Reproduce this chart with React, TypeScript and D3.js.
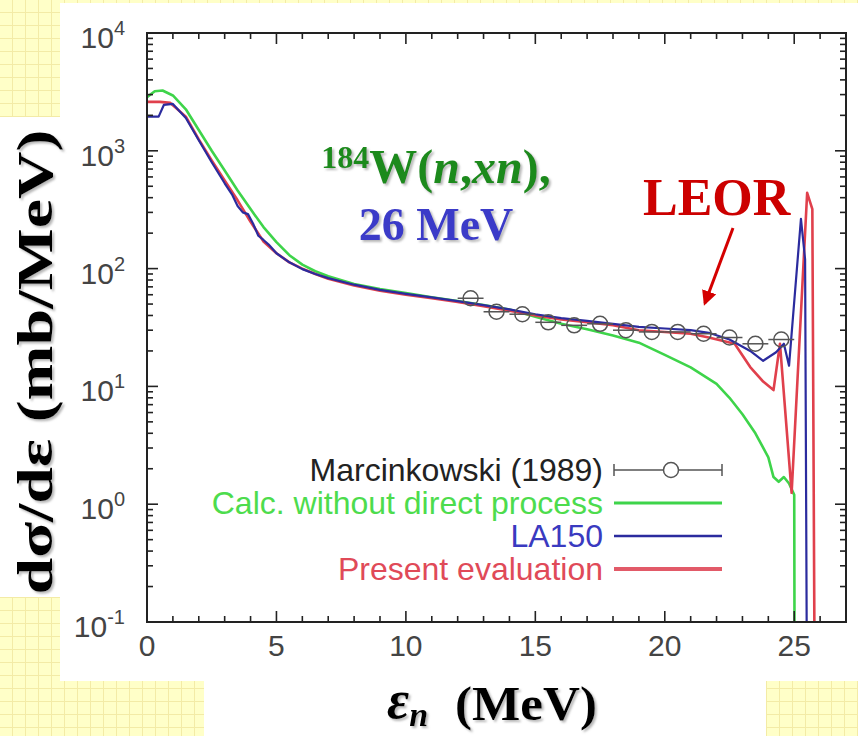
import React from "react"
import * as d3 from "d3"

const W = 858
const H = 736

// Marcinkowski (1989) data
const expE = [12.5, 13.5, 14.5, 15.5, 16.5, 17.5, 18.5, 19.5, 20.5, 21.5, 22.5, 23.5, 24.5]
const expY = [56, 43, 41, 35, 33, 34, 30, 29, 29, 28, 26, 23, 25]

// calc. without direct process
const calcE = [0, 0.3, 0.6, 1.0, 1.5, 2.0, 2.5, 3.0, 3.5, 4.0, 4.5, 5.0, 5.5, 6.0, 6.5, 7.0, 8, 9, 10, 11, 12, 13, 14, 15, 16, 17, 18, 19, 20, 21, 22, 22.5, 23, 23.5, 24, 24.2, 24.4, 24.6, 24.8, 25.0, 25.02]
const calcY = [2850, 3200, 3250, 2950, 2250, 1500, 1000, 680, 460, 320, 225, 168, 130, 108, 95, 86, 74, 67, 62, 57, 53, 49, 45, 39, 34, 30.5, 27, 23.5, 18.5, 14.5, 10.5, 8, 5.8, 4, 2.5, 1.7, 1.55, 1.7, 1.5, 1.2, 0.01]

// LA150
const la150E = [0, 0.45, 0.65, 1.0, 1.5, 2.0, 2.5, 3.0, 3.3, 3.5, 3.7, 3.9, 4.1, 4.3, 4.5, 4.7, 5.0, 5.5, 6.0, 6.5, 7, 8, 9, 10, 11, 12, 13, 14, 15, 16, 17, 18, 19, 20, 21, 21.7, 22.5, 23.3, 23.8, 24.3, 24.6, 24.8, 25.26, 25.42, 25.5]
const la150Y = [1950, 1950, 2450, 2500, 1900, 1230, 800, 530, 420, 340, 300, 290, 240, 190, 175, 160, 135, 113, 99, 90, 83, 73, 66, 61, 57, 53, 49, 45, 41, 38, 36, 34, 32, 31, 30, 28.5, 25, 20, 16.5, 19.5, 23, 15, 265, 120, 0.01]

// present evaluation
const evalE = [0, 0.5, 0.9, 1.5, 2.0, 2.5, 3.0, 3.5, 4.0, 4.5, 5.0, 5.5, 6.0, 6.5, 7, 8, 9, 10, 11, 12, 13, 14, 15, 16, 17, 18, 19, 20, 21, 21.7, 22.7, 23.3, 23.8, 24.2, 24.45, 24.9, 25.5, 25.7, 25.8]
const evalY = [2600, 2600, 2550, 1950, 1250, 830, 560, 380, 250, 170, 135, 113, 100, 90, 82, 72, 65, 60, 56, 52, 48, 44, 40, 37, 35, 33, 30, 29, 28, 26, 23, 14.6, 11, 9.3, 23, 1.25, 440, 320, 0.01]

const xTickVals = [0, 5, 10, 15, 20, 25]
const yTickExp = [-1, 0, 1, 2, 3, 4]

const legendLabels = ["Marcinkowski (1989)", "Calc. without direct process", "LA150", "Present evaluation"]

const GREEN = "#3ed44a"
const BLUE = "#2b2b9e"
const RED = "#e0404c"

const left = 147
const right = 846
const top = 33
const bottom = 622

export default function App() {
  const x = d3.scaleLinear().domain([0, 27]).range([left, right])
  const y = d3.scaleLog().domain([0.1, 1e4]).range([bottom, top])

  const line = d3
    .line<[number, number]>()
    .x((d) => x(d[0]))
    .y((d) => y(d[1]))

  const zip = (a: number[], b: number[]) => a.map((v, i) => [v, b[i]] as [number, number])

  // minor ticks
  const xMinor = d3.range(0, 28, 1).filter((v) => v % 5 !== 0)
  const yMinor: number[] = []
  for (let e = -1; e < 4; e++) for (let k = 2; k <= 9; k++) yMinor.push(k * Math.pow(10, e))

  const serif = "'Liberation Serif', 'Times New Roman', serif"
  const sans = "'Liberation Sans', Arial, Helvetica, sans-serif"

  const legX = 603
  const legBase = [481, 514, 547, 580]
  const legColors = ["#222", "#4ddc4d", "#3a3ac0", "#e04a58"]

  return (
    <div style={{ position: "absolute", left: 0, top: 0 }}>
      <svg width={W} height={H} viewBox={`0 0 ${W} ${H}`} style={{ display: "block" }}>
        <defs>
          <pattern id="grid" width="13" height="13" patternUnits="userSpaceOnUse">
            <rect width="13" height="13" fill="#ffffc8" />
            <path d="M12.5 0V13M0 12.5H13" stroke="#f3eba6" strokeWidth="1" fill="none" />
          </pattern>
          <clipPath id="plotclip">
            <rect x={left} y={top} width={right - left} height={bottom - top} />
          </clipPath>
          <marker id="arrowhead" viewBox="0 0 10 10" refX="8" refY="5" markerWidth="5" markerHeight="5" orient="auto">
            <path d="M0,0 L10,5 L0,10 z" fill="#d40000" />
          </marker>
          <filter id="shadow" x="-10%" y="-10%" width="120%" height="130%">
            <feDropShadow dx="2" dy="2" stdDeviation="0.8" floodColor="#888" floodOpacity="0.6" />
          </filter>
        </defs>

        {/* background */}
        <rect width={W} height={H} fill="url(#grid)" />
        <rect x={60} y={3} width={W - 60} height={678} fill="#fff" />
        <rect x={0} y={117} width={60} height={480} fill="#fff" />
        <rect x={204} y={681} width={562} height={55} fill="#fff" />

        {/* curves */}
        <g clipPath="url(#plotclip)" fill="none" strokeLinejoin="round">
          <path d={line(zip(calcE, calcY)) || ""} stroke={GREEN} strokeWidth={2.6} />
          <path d={line(zip(evalE, evalY)) || ""} stroke={RED} strokeWidth={2.6} />
          <path d={line(zip(la150E, la150Y)) || ""} stroke={BLUE} strokeWidth={2.2} />
        </g>

        {/* experimental points */}
        <g stroke="#555" strokeWidth={1.5} fill="none">
          {expE.map((e, i) => (
            <g key={i}>
              <line x1={x(e - 0.5)} x2={x(e + 0.5)} y1={y(expY[i])} y2={y(expY[i])} />
              <circle cx={x(e)} cy={y(expY[i])} r={7.5} />
            </g>
          ))}
        </g>

        {/* frame and ticks */}
        <g stroke="#222" strokeWidth={1.6}>
          <rect x={left} y={top} width={right - left} height={bottom - top} fill="none" strokeWidth={2} />
          {xTickVals.map((v) => (
            <g key={"xt" + v}>
              <line x1={x(v)} x2={x(v)} y1={bottom} y2={bottom - 11} />
              <line x1={x(v)} x2={x(v)} y1={top} y2={top + 11} />
            </g>
          ))}
          {xMinor.map((v) => (
            <g key={"xm" + v}>
              <line x1={x(v)} x2={x(v)} y1={bottom} y2={bottom - 6} />
              <line x1={x(v)} x2={x(v)} y1={top} y2={top + 6} />
            </g>
          ))}
          {yTickExp.map((e) => (
            <g key={"yt" + e}>
              <line x1={left} x2={left + 11} y1={y(Math.pow(10, e))} y2={y(Math.pow(10, e))} />
              <line x1={right} x2={right - 11} y1={y(Math.pow(10, e))} y2={y(Math.pow(10, e))} />
            </g>
          ))}
          {yMinor.map((v, i) => (
            <g key={"ym" + i}>
              <line x1={left} x2={left + 6} y1={y(v)} y2={y(v)} />
              <line x1={right} x2={right - 6} y1={y(v)} y2={y(v)} />
            </g>
          ))}
        </g>

        {/* tick labels */}
        <g fontFamily={sans} fill="#444">
          {xTickVals.map((v) => (
            <text key={"xl" + v} x={x(v)} y={656} fontSize={30} textAnchor="middle">
              {v}
            </text>
          ))}
          {yTickExp.map((e) => (
            <text key={"yl" + e} x={125} y={y(Math.pow(10, e)) + 15} fontSize={30} textAnchor="end">
              10
              <tspan fontSize={20} dy={-13}>
                {e}
              </tspan>
            </text>
          ))}
        </g>

        {/* legend */}
        <g fontFamily={sans} fontSize={32} textAnchor="end">
          {legendLabels.map((t, i) => (
            <text key={t} x={legX} y={legBase[i]} fill={legColors[i]}>
              {t}
            </text>
          ))}
        </g>
        <g stroke="#555" strokeWidth={1.5}>
          <line x1={614} x2={722} y1={470} y2={470} />
          <line x1={614} x2={614} y1={464} y2={476} />
          <line x1={722} x2={722} y1={464} y2={476} />
          <circle cx={671} cy={470} r={7.5} fill="#fff" />
        </g>
        <line x1={614} x2={722} y1={503} y2={503} stroke={GREEN} strokeWidth={3} />
        <line x1={614} x2={722} y1={536} y2={536} stroke={BLUE} strokeWidth={2.5} />
        <line x1={614} x2={722} y1={569} y2={569} stroke="#e25a68" strokeWidth={4} />

        {/* reaction title */}
        <g fontFamily={serif} fontWeight="bold" textAnchor="middle" filter="url(#shadow)">
          <text x={436} y={183} fontSize={48} fill="#1e8a1e">
            <tspan fontSize={32} dy={-15}>184</tspan>
            <tspan dy={15}>W(</tspan>
            <tspan fontStyle="italic">n</tspan>,<tspan fontStyle="italic">xn</tspan>),
          </text>
          <text x={436} y={240} fontSize={46} fill="#3a3ac8">
            26 MeV
          </text>
        </g>

        {/* LEOR annotation */}
        <text x={643} y={215} fontFamily={serif} fontWeight="bold" fontSize={52} fill="#cc0000">
          LEOR
        </text>
        <line x1={733} y1={228} x2={705} y2={303} stroke="#d40000" strokeWidth={3} markerEnd="url(#arrowhead)" />

        {/* axis titles */}
        <g fontFamily={serif} fontWeight="bold" filter="url(#shadow)">
          <text
            transform="translate(52,362) rotate(-90)"
            textAnchor="middle"
            fontSize={50}
            fill="#000"
            textLength={465}
            lengthAdjust="spacingAndGlyphs"
          >
            dσ/dε (mb/MeV)
          </text>
          <text x={387} y={718} fontSize={54} fontStyle="italic" fill="#000">
            ε<tspan fontSize={34} dy={8}>n</tspan>
          </text>
          <text x={455} y={720} fontSize={48} fill="#000" textLength={142} lengthAdjust="spacingAndGlyphs">
            (MeV)
          </text>
        </g>
      </svg>
    </div>
  )
}
